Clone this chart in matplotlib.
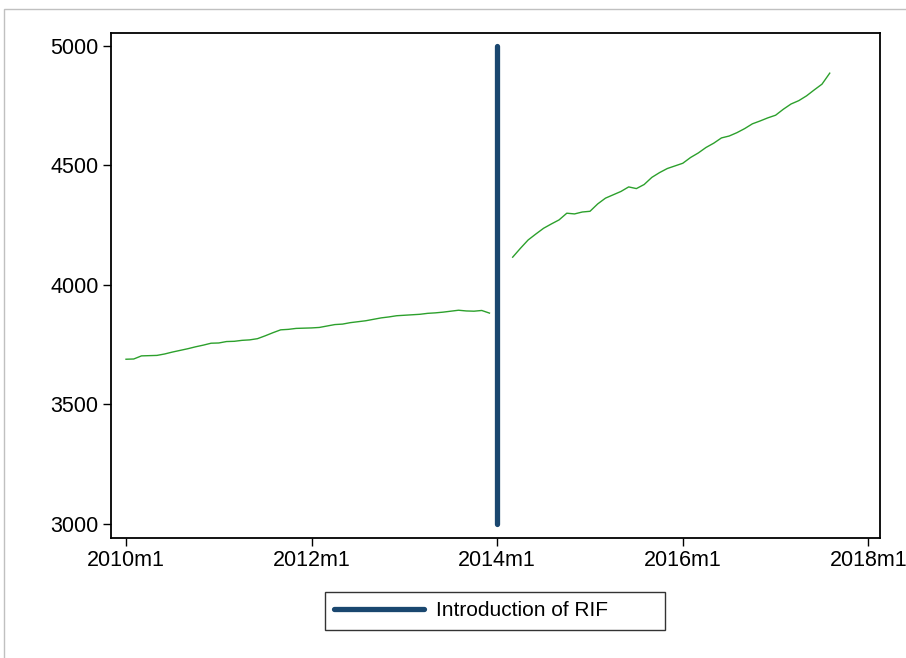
import matplotlib.pyplot as plt
import numpy as np
from matplotlib.patches import Rectangle

plt.rcParams['font.family'] = ['Liberation Sans', 'DejaVu Sans']

# monthly series, 2010m1 .. 2013m12
pre_vals = [3689, 3690, 3703, 3704, 3705, 3711, 3719, 3726, 3733, 3741, 3748, 3756,
            3757, 3763, 3764, 3768, 3770, 3775, 3787, 3800, 3812, 3814, 3818, 3819,
            3820, 3822, 3828, 3834, 3836, 3842, 3846, 3850, 3856, 3862, 3866, 3871,
            3873, 3875, 3877, 3881, 3883, 3886, 3890, 3894, 3891, 3890, 3893, 3882]
# monthly series, 2014m3 .. 2017m8
post_vals = [4116, 4153, 4188, 4213, 4237, 4255, 4272, 4300, 4297, 4305, 4308, 4339,
             4363, 4377, 4391, 4410, 4403, 4420, 4450, 4470, 4487, 4498, 4509, 4533,
             4552, 4575, 4593, 4615, 4623, 4637, 4654, 4674, 4686, 4699, 4710, 4735,
             4757, 4771, 4791, 4816, 4840, 4886]
pre_start = 0      # months since 2010m1
post_start = 50
rif_month = 48     # 2014m1
rif_range = [3000, 5000]

xtick_pos = [0, 24, 48, 72, 96]
xtick_lab = ['2010m1', '2012m1', '2014m1', '2016m1', '2018m1']
ytick_pos = [3000, 3500, 4000, 4500, 5000]

fig = plt.figure(figsize=(9.06, 6.58), dpi=100)
ax = fig.add_axes([111/906, 1-538/658, (880-111)/906, (538-33)/658])

green = '#2ca02c'
navy = '#1a476f'

x_pre = pre_start + np.arange(len(pre_vals))
x_post = post_start + np.arange(len(post_vals))
ax.plot(x_pre, pre_vals, color=green, lw=1.0)
ax.plot(x_post, post_vals, color=green, lw=1.0)
ax.plot([rif_month, rif_month], rif_range, color=navy, lw=3.8,
        solid_capstyle='round', label='Introduction of RIF')

ax.set_xlim(-1.94, 97.5)
ax.set_ylim(2941, 5054)
ax.set_xticks(xtick_pos)
ax.set_xticklabels(xtick_lab)
ax.set_yticks(ytick_pos)
ax.tick_params(direction='out', length=6, width=1, labelsize=15.5, colors='black', pad=3)
for s in ax.spines.values():
    s.set_linewidth(1.3)

# wide legend box like stata's, content left aligned
leg = ax.legend(loc='upper left', bbox_to_anchor=(0.278, -0.3, 0.442, 0.193),
                mode='expand', frameon=True, fancybox=False, edgecolor='black',
                fontsize=15, handlelength=4.3, borderpad=0.45, borderaxespad=0,
                handletextpad=0.6)
leg.get_frame().set_linewidth(1.0)

fig.patches.append(Rectangle((4/906, -0.1), 1.2, 1.1 - 9/658, transform=fig.transFigure,
                             fill=False, edgecolor='#c0c0c0', lw=1.0))

fig.savefig('out.png', dpi=100)
